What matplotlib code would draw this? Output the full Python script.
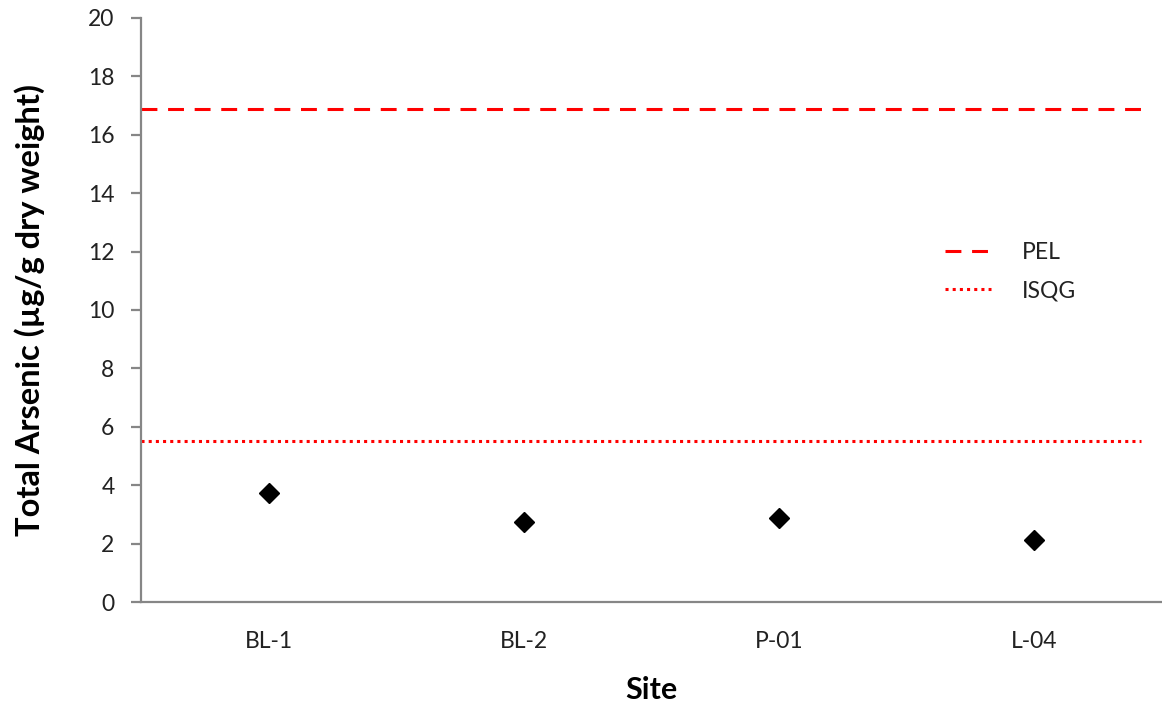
import matplotlib
matplotlib.use("Agg")
import matplotlib.pyplot as plt
from matplotlib.lines import Line2D

# data
sites = ['BL-1', 'BL-2', 'P-01', 'L-04']
arsenic = [3.75, 2.75, 2.87, 2.12]
pel = 16.9
isqg = 5.52
yticks = list(range(0, 21, 2))

plt.rcParams['font.family'] = ['Lato', 'DejaVu Sans']

fig = plt.figure(figsize=(11.62, 7.11), dpi=100)
ax = fig.add_axes([0.1213, 0.1533, 0.8787, 0.8214])

x = list(range(len(sites)))
ax.plot(x, arsenic, linestyle='none', marker='D', markersize=10,
        color='black')

ax.axhline(pel, xmin=0, xmax=0.986, color='#ff0000', lw=2.2,
           dashes=(5.2, 3.5), dash_capstyle='butt')
ax.axhline(isqg, xmin=0, xmax=0.979, color='#ff0000', lw=2.2,
           dashes=(1.0, 1.35), dash_capstyle='butt')

ax.set_xlim(-0.5, len(sites) - 0.5)
ax.set_ylim(0, 20)
ax.set_yticks(yticks)
ax.set_xticks(x)
ax.set_xticklabels(sites)

for s in ['top', 'right']:
    ax.spines[s].set_visible(False)
for s in ['left', 'bottom']:
    ax.spines[s].set_color('#868686')
    ax.spines[s].set_linewidth(1.6)

ax.tick_params(axis='y', direction='out', length=7, width=1.6,
               color='#868686', labelsize=16.5, pad=12, labelcolor='#222222')
ax.tick_params(axis='x', length=0, labelsize=16.5, pad=21,
               labelcolor='#222222')

ax.set_ylabel('Total Arsenic (µg/g dry weight)', fontsize=23.5,
              fontweight='bold')
ax.yaxis.set_label_coords(-0.094, 0.5)
ax.set_xlabel('Site', fontsize=22, fontweight='bold', labelpad=17)

handles = [
    Line2D([], [], color='#ff0000', lw=2.2, dashes=(5.2, 3.5),
           dash_capstyle='butt'),
    Line2D([], [], color='#ff0000', lw=2.2, dashes=(1.0, 1.35),
           dash_capstyle='butt'),
]
ax.legend(handles, ['PEL', 'ISQG'], loc='center left',
          bbox_to_anchor=(0.767, 0.566), frameon=False, fontsize=16.5,
          handlelength=2.0, handletextpad=1.35, labelspacing=0.75,
          labelcolor='#222222')

fig.savefig('out.png', dpi=100)
